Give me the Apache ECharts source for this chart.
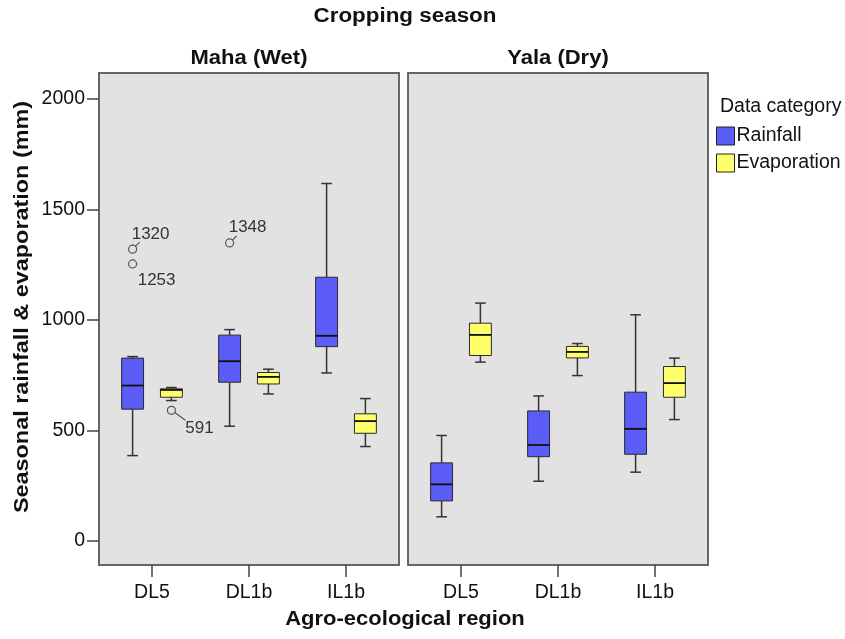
<!DOCTYPE html>
<html>
<head>
<meta charset="utf-8">
<title>Seasonal rainfall & evaporation</title>
<script src="https://cdn.jsdelivr.net/npm/echarts@6/dist/echarts.min.js"></script>
<style>
  html, body { margin: 0; padding: 0; background: #fff; }
  #main { width: 845px; height: 639px; }
</style>
</head>
<body>
<div id="main"></div>
<script>
// categories and tick labels
const regions = ['DL5', 'DL1b', 'IL1b']
const seasons = ['Maha (Wet)', 'Yala (Dry)']
const yTicks = [0, 500, 1000, 1500, 2000]

// box statistics per region: [min, Q1, median, Q3, max]
const mahaRainfall = [
  [386, 596, 703, 827, 834],
  [519, 718, 813, 931, 956],
  [760, 879, 928, 1193, 1617]
]
const mahaEvaporation = [
  [635, 650, 683, 688, 694],
  [665, 710, 742, 762, 777],
  [427, 487, 542, 575, 644]
]
const yalaRainfall = [
  [109, 181, 256, 353, 477],
  [270, 381, 434, 588, 656],
  [311, 392, 507, 673, 1023]
]
const yalaEvaporation = [
  [809, 839, 932, 985, 1076],
  [748, 828, 855, 880, 893],
  [549, 650, 714, 789, 827]
]
// outliers: [region index, value]
const mahaRainOutliers = [[0, 1320], [0, 1253], [1, 1348]]
const mahaEvapOutliers = [[0, 591]]

// where each outlier label sits relative to its circle
const outlierLabelPos = {
  1320: { dx: 18, dy: -15, lx: 7, ly: -7 },
  1253: { dx: 24, dy: 16 },
  1348: { dx: 18, dy: -16, lx: 7, ly: -7 },
  591: { dx: 28, dy: 18, lx: 14, ly: 10 }
}

const FONT = '"Liberation Sans", Arial, sans-serif'
const RAIN = '#5c5cf6'
const EVAP = '#ffff6b'

// rainfall sits left of the category centre, evaporation right
function boxRenderer (side, fill) {
  return function (params, api) {
    const cat = api.value(0)
    const band = api.size([1, 0])[0]
    const cx = api.coord([cat, 0])[0] + side * band * 0.2
    const y = [1, 2, 3, 4, 5].map(d => api.coord([cat, api.value(d)])[1])
    const hw = band * 0.113
    const cap = band * 0.055
    const line = { stroke: '#333', lineWidth: 1.5 }
    return {
      type: 'group',
      children: [
        { type: 'line', shape: { x1: cx, y1: y[4], x2: cx, y2: y[3] }, style: line },
        { type: 'line', shape: { x1: cx, y1: y[1], x2: cx, y2: y[0] }, style: line },
        { type: 'line', shape: { x1: cx - cap, y1: y[4], x2: cx + cap, y2: y[4] }, style: line },
        { type: 'line', shape: { x1: cx - cap, y1: y[0], x2: cx + cap, y2: y[0] }, style: line },
        { type: 'rect', shape: { x: cx - hw, y: y[3], width: 2 * hw, height: y[1] - y[3] }, style: { fill: fill, stroke: '#2a2a2a', lineWidth: 1 } },
        { type: 'line', shape: { x1: cx - hw, y1: y[2], x2: cx + hw, y2: y[2] }, style: { stroke: '#111', lineWidth: 1.8 } }
      ]
    }
  }
}

function outlierRenderer (side) {
  return function (params, api) {
    const cat = api.value(0)
    const v = api.value(1)
    const band = api.size([1, 0])[0]
    const p = api.coord([cat, v])
    const cx = p[0] + side * band * 0.2
    const cy = p[1]
    const pos = outlierLabelPos[v]
    const children = [
      { type: 'circle', shape: { cx: cx, cy: cy, r: 4 }, style: { fill: 'none', stroke: '#555', lineWidth: 1.2 } },
      { type: 'text', style: { text: String(v), x: cx + pos.dx, y: cy + pos.dy, textAlign: 'center', textVerticalAlign: 'middle', font: '17px ' + FONT, fill: '#333' } }
    ]
    if (pos.lx !== undefined) {
      const len = Math.hypot(pos.lx, pos.ly)
      children.push({
        type: 'line',
        shape: { x1: cx + pos.lx / len * 4, y1: cy + pos.ly / len * 4, x2: cx + pos.lx, y2: cy + pos.ly },
        style: { stroke: '#555', lineWidth: 1.2 }
      })
    }
    return { type: 'group', children: children }
  }
}

function boxSeries (name, grid, stats, side, fill) {
  return {
    name: name,
    type: 'custom',
    xAxisIndex: grid,
    yAxisIndex: grid,
    itemStyle: { color: fill, borderColor: '#222', borderWidth: 1 },
    encode: { x: 0, y: [1, 2, 3, 4, 5] },
    data: stats.map((s, i) => [i].concat(s)),
    renderItem: boxRenderer(side, fill),
    silent: true
  }
}

function outlierSeries (name, grid, points, side) {
  return {
    name: name,
    type: 'custom',
    xAxisIndex: grid,
    yAxisIndex: grid,
    encode: { x: 0, y: 1 },
    data: points,
    renderItem: outlierRenderer(side),
    silent: true
  }
}

function title (text, x, y, scaleX, rotation) {
  return {
    type: 'text',
    x: x,
    y: y,
    scaleX: scaleX,
    rotation: rotation || 0,
    style: { text: text, font: 'bold 20px ' + FONT, fill: '#111', textAlign: 'center', textVerticalAlign: 'middle' }
  }
}

// grey panel behind each season's grid
function panel (left) {
  return {
    type: 'rect',
    z: -10,
    shape: { x: left, y: 73, width: 300, height: 492 },
    style: { fill: '#e2e2e2', stroke: '#666', lineWidth: 2 }
  }
}

const chart = echarts.init(document.getElementById('main'))

// categories are a little inset from the panel edges
const grids = [103.5, 412.5].map(left => ({
  left: left,
  top: 73,
  width: 291,
  height: 492
}))

chart.setOption({
  animation: false,
  backgroundColor: '#fff',
  textStyle: { fontFamily: FONT },
  grid: grids,
  xAxis: [0, 1].map(i => ({
    type: 'category',
    gridIndex: i,
    data: regions,
    axisLine: { show: false, onZero: false },
    axisTick: { show: true, alignWithLabel: true, length: 12, lineStyle: { color: '#444', width: 1.5 } },
    axisLabel: { margin: 18, fontSize: 19.5, color: '#111', fontFamily: FONT },
    splitLine: { show: false }
  })),
  yAxis: [
    {
      type: 'value',
      gridIndex: 0,
      min: -109,
      max: 2117,
      offset: 4.5,
      axisLine: { show: false, onZero: false },
      axisTick: { show: true, length: 12, customValues: yTicks, lineStyle: { color: '#444', width: 1.5 } },
      axisLabel: { margin: 14, fontSize: 19.5, color: '#111', fontFamily: FONT, customValues: yTicks, formatter: v => String(v) },
      splitLine: { show: false }
    },
    { type: 'value', gridIndex: 1, min: -109, max: 2117, show: false, splitLine: { show: false } }
  ],
  legend: {
    data: ['Rainfall', 'Evaporation'],
    orient: 'vertical',
    left: 716,
    top: 126,
    padding: 0,
    itemWidth: 18,
    itemHeight: 18,
    itemGap: 7,
    icon: 'rect',
    itemStyle: { borderColor: '#222', borderWidth: 1 },
    textStyle: { fontSize: 19.5, color: '#111', fontFamily: FONT, padding: [0, 0, 0, -3] },
    selectedMode: false
  },
  graphic: [
    panel(99),
    panel(408),
    title('Cropping season', 405, 16, 1.12),
    title(seasons[0], 249, 58, 1.1),
    title(seasons[1], 558, 58, 1.1),
    title('Agro-ecological region', 405, 619, 1.1),
    title('Seasonal rainfall & evaporation (mm)', 22, 307, 1.17, Math.PI / 2),
    { type: 'text', x: 720, y: 107, style: { text: 'Data category', font: '19.5px ' + FONT, fill: '#111', textAlign: 'left', textVerticalAlign: 'middle' } }
  ],
  series: [
    boxSeries('Rainfall', 0, mahaRainfall, -1, RAIN),
    boxSeries('Evaporation', 0, mahaEvaporation, 1, EVAP),
    boxSeries('Rainfall', 1, yalaRainfall, -1, RAIN),
    boxSeries('Evaporation', 1, yalaEvaporation, 1, EVAP),
    outlierSeries('Rainfall outliers', 0, mahaRainOutliers, -1),
    outlierSeries('Evaporation outliers', 0, mahaEvapOutliers, 1)
  ]
})
</script>
</body>
</html>
